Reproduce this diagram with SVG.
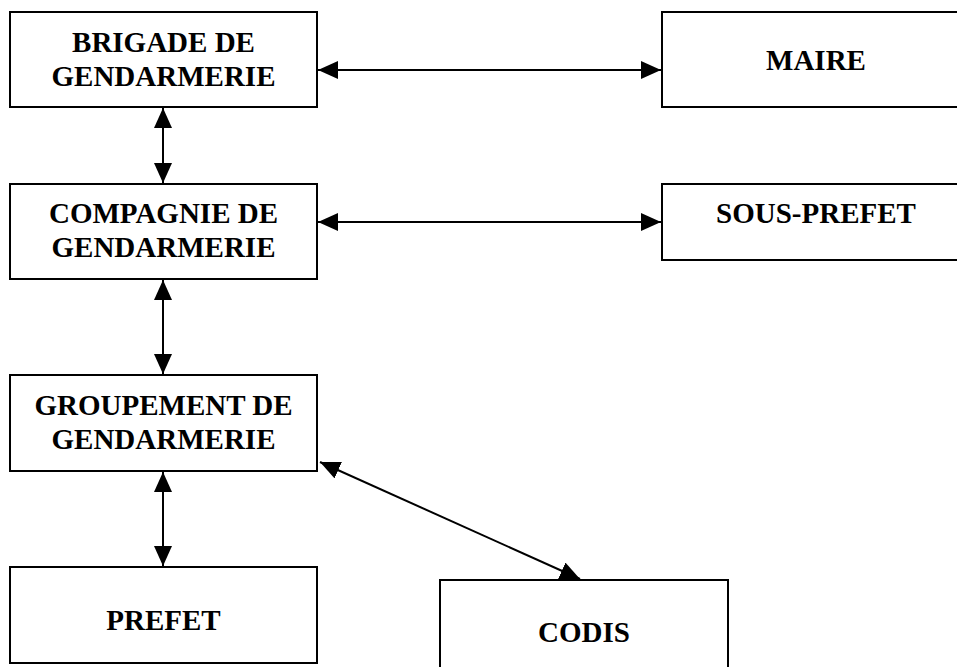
<svg xmlns="http://www.w3.org/2000/svg" width="957" height="667" viewBox="0 0 957 667">
<style>
.box{fill:#fff;stroke:#000;stroke-width:2}
.t{font-family:"Liberation Serif","Times New Roman",serif;font-weight:bold;font-size:29px;fill:#000;text-anchor:middle}
.c{stroke:#000;stroke-width:2;fill:none;marker-start:url(#ah);marker-end:url(#ah)}
</style>
<defs>
<marker id="ah" markerUnits="userSpaceOnUse" markerWidth="20" markerHeight="18" refX="20" refY="9" orient="auto-start-reverse" viewBox="0 0 20 18">
<path d="M0,0 L20,9 L0,18 z" fill="#000"/>
</marker>
</defs>
<rect width="957" height="667" fill="#fff"/>
<g id="brigade"><rect class="box" x="10" y="12" width="307" height="95"/><text class="t" x="163.5" y="52">BRIGADE DE</text><text class="t" x="163.5" y="86">GENDARMERIE</text></g>
<g id="maire"><rect class="box" x="662" y="12" width="310" height="95"/><text class="t" x="816" y="70">MAIRE</text></g>
<g id="compagnie"><rect class="box" x="10" y="184" width="307" height="95"/><text class="t" x="163.5" y="223">COMPAGNIE DE</text><text class="t" x="163.5" y="257">GENDARMERIE</text></g>
<g id="sousprefet"><rect class="box" x="662" y="184" width="310" height="76"/><text class="t" x="816" y="223">SOUS-PREFET</text></g>
<g id="groupement"><rect class="box" x="10" y="375" width="307" height="96"/><text class="t" x="163.5" y="415">GROUPEMENT DE</text><text class="t" x="163.5" y="449">GENDARMERIE</text></g>
<g id="prefet"><rect class="box" x="10" y="567" width="307" height="96"/><text class="t" x="163.5" y="630">PREFET</text></g>
<g id="codis"><rect class="box" x="440" y="580" width="288" height="100"/><text class="t" x="584" y="642">CODIS</text></g>
<g id="connectors">
<line class="c" x1="318" y1="70" x2="661" y2="70"/>
<line class="c" x1="318" y1="222" x2="661" y2="222"/>
<line class="c" x1="163" y1="108" x2="163" y2="183"/>
<line class="c" x1="163" y1="280" x2="163" y2="374"/>
<line class="c" x1="163" y1="472" x2="163" y2="566"/>
<line class="c" x1="320" y1="462" x2="580" y2="579"/>
</g>
</svg>
